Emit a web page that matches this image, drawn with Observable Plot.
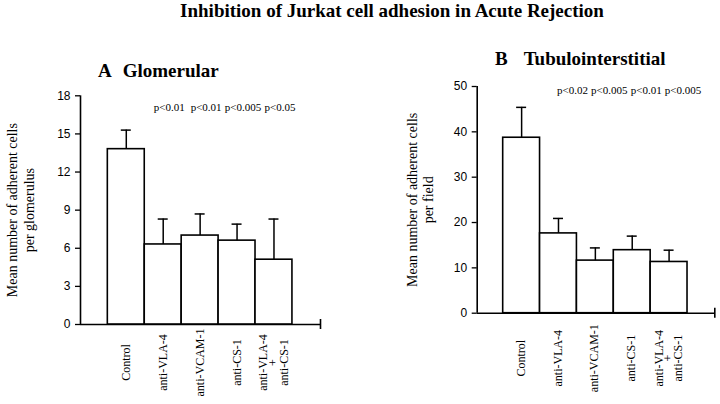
<!DOCTYPE html>
<html>
<head>
<meta charset="utf-8">
<script src="https://cdn.jsdelivr.net/npm/d3@7"></script>
<script src="https://cdn.jsdelivr.net/npm/@observablehq/plot@0.6"></script>
<style>
  html, body { margin: 0; padding: 0; background: #fff; }
  #wrap { position: relative; width: 720px; height: 404px; overflow: hidden; font-family: "Liberation Serif", "Times New Roman", serif; color: #000; }
  .title { position: absolute; top: 0; left: 0; width: 784px; text-align: center; font-weight: bold; font-size: 19px; line-height: 22px; white-space: nowrap; }
  .head { position: absolute; font-weight: bold; font-size: 19px; line-height: 22px; white-space: nowrap; }
  .head span { display: inline-block; }
  .panel { position: absolute; top: 0; }
</style>
</head>
<body>
<div id="wrap">
  <div class="title" style="top:0px;">Inhibition of Jurkat cell adhesion in Acute Rejection</div>
  <div class="head" style="left:98px; top:60px;"><span>A</span><span style="margin-left:11px;">Glomerular</span></div>
  <div class="head" style="left:495px; top:48px;"><span>B</span><span style="margin-left:16px;">Tubulointerstitial</span></div>
  <div id="pa" class="panel" style="left:0px;"></div>
  <div id="pb" class="panel" style="left:360px;"></div>
</div>
<script>
// ---- data ----
const categories = ["Control", "anti-VLA-4", "anti-VCAM-1", "anti-CS-1", "anti-VLA-4\n+\nanti-CS-1"];
const glomMean = [13.8, 6.3, 7.0, 6.6, 5.1];
const glomSE   = [1.5, 2.0, 1.7, 1.3, 3.2];
const glomP    = ["", "p<0.01", "p<0.01", "p<0.005", "p<0.05"];
const glomTicks = [0, 3, 6, 9, 12, 15, 18];
const glomLabel = "Mean number of adherent cells\nper glomerulus";

const tubMean = [38.7, 17.6, 11.6, 13.9, 11.3];
const tubSE   = [6.7, 3.3, 2.8, 3.1, 2.6];
const tubP    = ["", "p<0.02", "p<0.005", "p<0.01", "p<0.005"];
const tubTicks = [0, 10, 20, 30, 40, 50];
const tubLabel = "Mean number of adherent cells\nper field";

const serif = "Liberation Serif, Times New Roman, serif";
const sans = "Liberation Sans, Arial, sans-serif";

function panel(cfg) {
  const rows = categories.map((c, i) => ({i, cat: c, mean: cfg.mean[i], se: cfg.se[i], p: cfg.p[i]}));
  const [xmin, xmax] = cfg.xdomain;
  return Plot.plot({
    width: 360,
    height: 404,
    marginLeft: cfg.ml, marginRight: cfg.mr, marginTop: cfg.mt, marginBottom: cfg.mb,
    x: {type: "linear", domain: cfg.xdomain, axis: null},
    y: {domain: [0, cfg.ticks[cfg.ticks.length - 1]], axis: null},
    style: {background: "transparent", color: "#000", overflow: "visible"},
    marks: [
      Plot.axisY({ticks: cfg.ticks, tickSize: 5, tickPadding: 5, fontSize: 12, fontFamily: sans, tickFormat: d => String(d), label: null, strokeWidth: 1.3}),
      Plot.ruleX([xmin], {strokeWidth: 1.6}),
      Plot.ruleY([0], {strokeWidth: 1.6}),
      Plot.ruleX([xmax], {y1: () => 0, y2: () => 0, insetTop: -5, insetBottom: -5, strokeWidth: 1.6}),
      Plot.rect(rows, {x1: "i", x2: d => d.i + 1, y1: () => 0, y2: "mean", fill: "white", stroke: "black", strokeWidth: 1.6}),
      Plot.ruleX(rows, {x: d => d.i + 0.5, y1: "mean", y2: d => d.mean + d.se, strokeWidth: 1.5}),
      Plot.ruleY(rows, {y: d => d.mean + d.se, x1: d => d.i + 0.5, x2: d => d.i + 0.5, insetLeft: -5, insetRight: -5, strokeWidth: 1.5}),
      Plot.text(rows, {x: d => d.i + 0.5, y: () => 0, text: "cat", rotate: -90, dy: cfg.labDy, fontFamily: serif, fontSize: 12, lineHeight: cfg.lh, fill: "black"}),
      Plot.text(rows, {x: d => d.i + 0.5, frameAnchor: "top", text: "p", lineAnchor: "bottom", dy: cfg.pDy, dx: cfg.pDx, fontFamily: serif, fontSize: 11, fill: "black"}),
      Plot.text([cfg.label], {frameAnchor: "left", textAnchor: "middle", rotate: -90, dx: cfg.labDx, fontFamily: serif, fontSize: 14, lineHeight: 1.2, fill: "black"})
    ]
  });
}

document.getElementById("pa").append(panel({
  mean: glomMean, se: glomSE, p: glomP, ticks: glomTicks, label: glomLabel,
  ml: 80, mr: 40, mt: 95.3, mb: 80,
  xdomain: [-0.74, 5.76],
  labDy: 38, lh: 0.9, pDy: 15.4, pDx: 6, labDx: -60.5
}));
document.getElementById("pb").append(panel({
  mean: tubMean, se: tubSE, p: tubP, ticks: tubTicks, label: tubLabel,
  ml: 116.7, mr: 5.7, mt: 86, mb: 91.3,
  xdomain: [-0.705, 5.74],
  labDy: 45, lh: 0.8, pDy: 7.3, pDx: 14, labDx: -57.5
}));
</script>
</body>
</html>
